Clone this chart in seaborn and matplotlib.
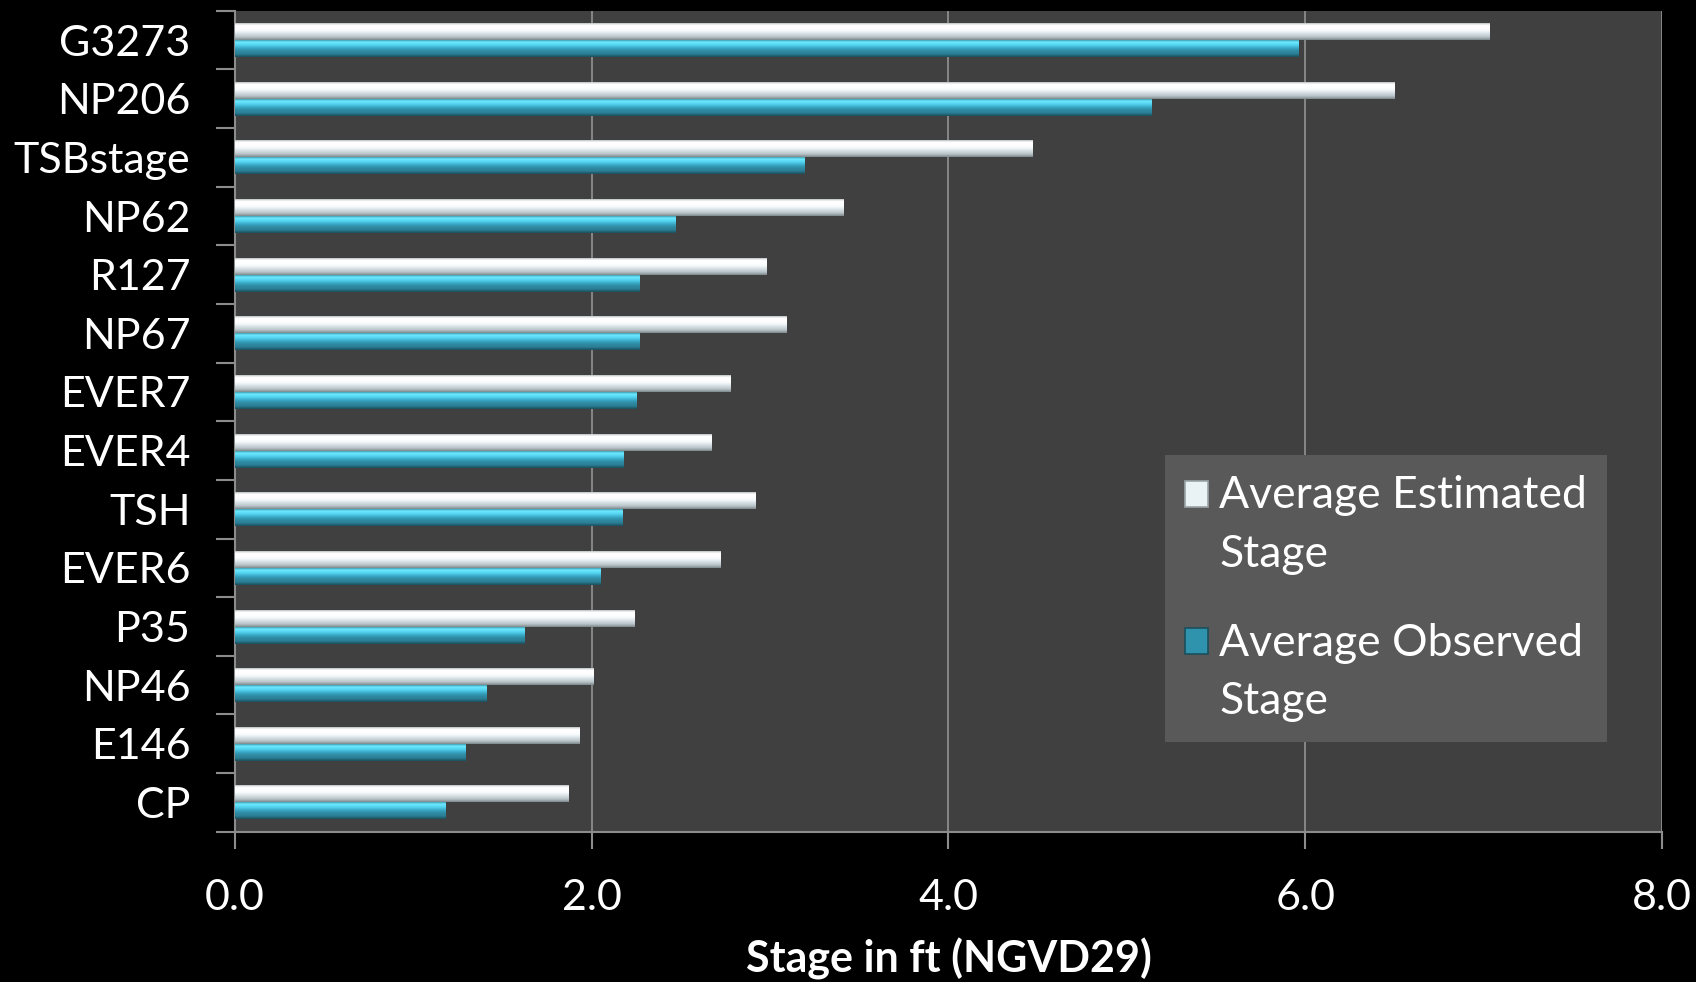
import numpy as np
import pandas as pd
import matplotlib
matplotlib.use("Agg")
import matplotlib.pyplot as plt
from matplotlib.colors import LinearSegmentedColormap
from matplotlib.patches import Patch, Rectangle
from matplotlib.legend_handler import HandlerPatch
import seaborn as sns

# Gauge stations and their average stages (ft, NGVD29)
stations = ["G3273", "NP206", "TSBstage", "NP62", "R127", "NP67", "EVER7",
            "EVER4", "TSH", "EVER6", "P35", "NP46", "E146", "CP"]
estimated = [7.03, 6.50, 4.47, 3.41, 2.98, 3.09, 2.78,
             2.67, 2.92, 2.72, 2.24, 2.01, 1.93, 1.87]
observed = [5.96, 5.14, 3.19, 2.47, 2.27, 2.27, 2.25,
            2.18, 2.17, 2.05, 1.62, 1.41, 1.29, 1.18]
series_names = ["Average Estimated Stage", "Average Observed Stage"]
legend_labels = ["Average Estimated\nStage", "Average Observed\nStage"]
x_ticks = [0.0, 2.0, 4.0, 6.0, 8.0]
x_label = "Stage in ft (NGVD29)"

df = pd.DataFrame({
    "station": stations * 2,
    "stage": estimated + observed,
    "series": [series_names[0]] * len(stations) + [series_names[1]] * len(stations),
})

sns.set_theme(style="dark")
FONT = ["Lato", "DejaVu Sans"]
plt.rcParams["font.family"] = FONT
FS = 31
LEG_FS = 32
LINESP = 1.52

fig = plt.figure(figsize=(16.96, 9.82), dpi=100, facecolor="black")
ax = fig.add_axes([0.1385, 0.153, 0.8415, 0.836])
ax.set_facecolor("#404040")

base_colors = {series_names[0]: "#e6eef1", series_names[1]: "#2f93ad"}
sns.barplot(data=df, y="station", x="stage", hue="series", order=stations,
            hue_order=series_names, palette=base_colors, orient="h",
            width=0.58, gap=0.0, ax=ax, legend=False, zorder=3,
            edgecolor="none", linewidth=0)

# Glossy vertical shading for each bar
grad_est = LinearSegmentedColormap.from_list(
    "est", ["#9aa4a8", "#ffffff", "#ffffff", "#f4f8f9", "#d3dde2", "#b9c5ca", "#7f898d"])
grad_obs = LinearSegmentedColormap.from_list(
    "obs", ["#2a7f95", "#6eeaff", "#52d2f0", "#3aa9c6", "#2e8ba3", "#2b7f96", "#1a4f5d"])
n = len(stations)
for i, patch in enumerate(ax.patches[:2 * n]):
    cmap = grad_est if i < n else grad_obs
    x0, y0 = patch.get_x(), patch.get_y()
    w, h = patch.get_width(), patch.get_height()
    grad = np.linspace(0, 1, 64).reshape(-1, 1)
    im = ax.imshow(grad, cmap=cmap, aspect="auto", interpolation="bilinear",
                   extent=[x0, x0 + w, y0 + h, y0], zorder=4)
    im.set_clip_path(patch)

ax.set_xlim(0, 8)
ax.set_ylim(n - 0.5, -0.5)
ax.set_aspect("auto")

# Gridlines and spines
ax.set_xticks(x_ticks)
ax.set_xticklabels([f"{v:.1f}" for v in x_ticks], color="white", fontsize=FS, family=FONT)
ax.xaxis.grid(True, color="#8c8c8c", linewidth=1.3, zorder=1)
ax.yaxis.grid(False)
ax.set_axisbelow(True)
for side in ["top", "right"]:
    ax.spines[side].set_visible(False)
for side in ["left", "bottom"]:
    ax.spines[side].set_visible(True)
    ax.spines[side].set_color("#8c8c8c")
    ax.spines[side].set_linewidth(1.5)

ax.tick_params(axis="x", which="major", length=12, width=1.5, color="#8c8c8c",
               pad=22, bottom=True)
ax.set_yticks(range(n))
ax.set_yticklabels(stations, color="white", fontsize=FS, family=FONT)
ax.tick_params(axis="y", which="major", length=0, pad=32)
ax.set_yticks(np.arange(-0.5, n, 1.0), minor=True)
ax.tick_params(axis="y", which="minor", length=14, width=1.5, color="#8c8c8c", left=True)

ax.set_ylabel("")
ax.set_xlabel(x_label, color="white", fontsize=FS, fontweight="bold",
              family=FONT, labelpad=15)


# Legend swatches sit beside the first line of each two-line label
class TopAlignedPatch(HandlerPatch):
    def create_artists(self, legend, orig_handle, xdescent, ydescent,
                       width, height, fontsize, trans):
        shift = fontsize * 0.72
        p = Rectangle((-xdescent, -ydescent + shift), width, height,
                      facecolor=orig_handle.get_facecolor(),
                      edgecolor=orig_handle.get_edgecolor(),
                      linewidth=orig_handle.get_linewidth(), transform=trans)
        return [p]


handles = [Patch(facecolor="#e9f2f5", edgecolor="#9aa4a8", linewidth=1.2),
           Patch(facecolor="#2f93ad", edgecolor="#1a4f5d", linewidth=1.2)]
leg = ax.legend(handles, legend_labels, loc="upper left",
                bbox_to_anchor=(0.6515, 0.4585), borderaxespad=0,
                frameon=True, fancybox=False, facecolor="#595959", edgecolor="none",
                framealpha=1, handlelength=0.52, handleheight=0.52,
                handletextpad=0.26, labelspacing=1.08, borderpad=0.45,
                prop={"family": FONT, "size": LEG_FS},
                handler_map={Patch: TopAlignedPatch()})
for t in leg.get_texts():
    t.set_color("white")
    t.set_linespacing(LINESP)

fig.savefig("out.png", dpi=100, facecolor="black")
